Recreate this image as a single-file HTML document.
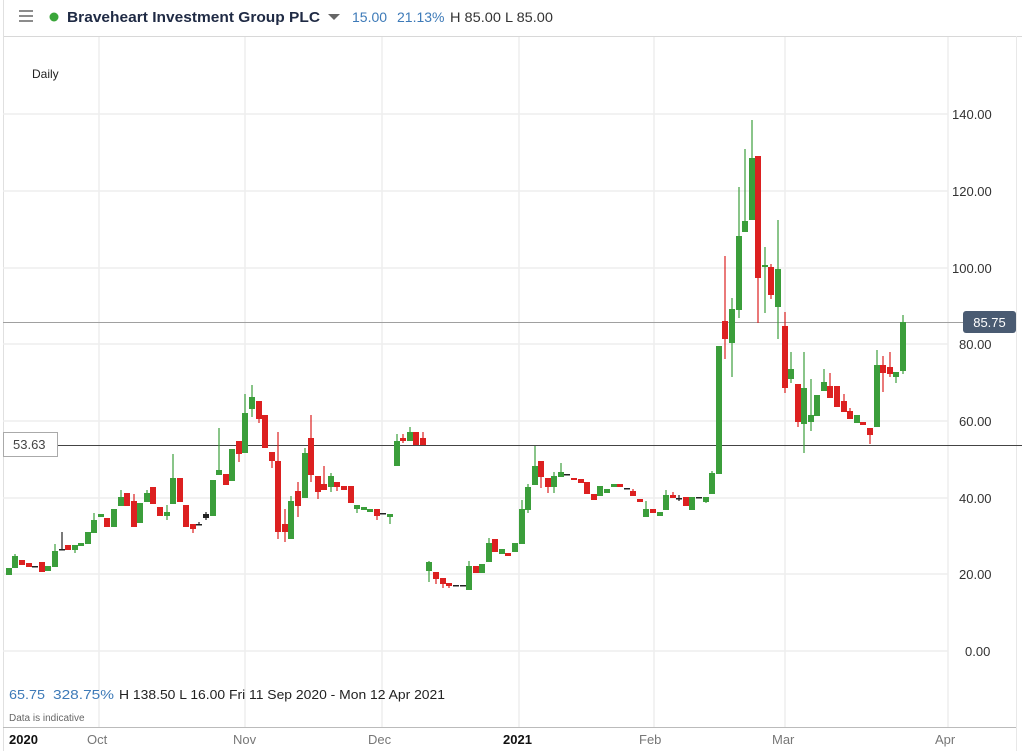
<!DOCTYPE html>
<html><head><meta charset="utf-8"><style>
body{margin:0;width:1022px;height:751px;overflow:hidden;background:#fff;font-family:"Liberation Sans",sans-serif;}
</style></head><body>
<svg width="1022" height="751" xmlns="http://www.w3.org/2000/svg" style="position:absolute;left:0;top:0" font-family="Liberation Sans, sans-serif">
<rect x="0" y="0" width="1022" height="751" fill="#fff"/>
<line x1="3" y1="36.5" x2="1022" y2="36.5" stroke="#d8d8d8"/>
<line x1="3.5" y1="0" x2="3.5" y2="751" stroke="#e0e0e0"/>
<line x1="1016.5" y1="36" x2="1016.5" y2="751" stroke="#e8e8e8"/>
<g stroke="#eeeeee" stroke-width="1.5">
<line x1="3" y1="114" x2="948" y2="114"/><line x1="3" y1="191" x2="948" y2="191"/>
<line x1="3" y1="268" x2="948" y2="268"/><line x1="3" y1="344" x2="948" y2="344"/>
<line x1="3" y1="421" x2="948" y2="421"/><line x1="3" y1="498" x2="948" y2="498"/>
<line x1="3" y1="574" x2="948" y2="574"/><line x1="3" y1="651" x2="948" y2="651"/>
<line x1="99" y1="37" x2="99" y2="727"/><line x1="245" y1="37" x2="245" y2="727"/>
<line x1="382" y1="37" x2="382" y2="727"/><line x1="519" y1="37" x2="519" y2="727"/>
<line x1="654" y1="37" x2="654" y2="727"/><line x1="785" y1="37" x2="785" y2="727"/>
<line x1="948" y1="37" x2="948" y2="727"/>
</g>
<line x1="3" y1="727.5" x2="1016" y2="727.5" stroke="#bbb"/>
<line x1="3" y1="322.5" x2="963" y2="322.5" stroke="#a0a0a0"/>
<line x1="58" y1="445.5" x2="1022" y2="445.5" stroke="#444"/>
<g id="c"></g>
<g font-size="13" fill="#333">
<text x="952" y="119">140.00</text><text x="952" y="196">120.00</text>
<text x="952" y="273">100.00</text><text x="959" y="349">80.00</text>
<text x="959" y="426">60.00</text><text x="959" y="503">40.00</text>
<text x="959" y="579">20.00</text><text x="965" y="656">0.00</text>
</g>
<rect x="963" y="311" width="53" height="22" rx="3" fill="#4a5b72"/>
<text x="989.5" y="327" font-size="13" fill="#fff" text-anchor="middle">85.75</text>
<rect x="3.5" y="432.5" width="54" height="24" fill="#fff" stroke="#aaa"/>
<text x="13" y="449" font-size="13" fill="#444">53.63</text>
<text x="32" y="78" font-size="12" fill="#222">Daily</text>
<g stroke="#666" stroke-width="1.5"><line x1="19" y1="11" x2="33" y2="11"/><line x1="19" y1="16" x2="33" y2="16"/><line x1="19" y1="21" x2="33" y2="21"/></g>
<circle cx="54" cy="17" r="4.5" fill="#3aa63a"/>
<text x="67" y="22" font-size="15" font-weight="bold" fill="#1f2a44" textLength="253" lengthAdjust="spacingAndGlyphs">Braveheart Investment Group PLC</text>
<polygon points="328,14 340,14 334,20" fill="#666"/>
<text x="352" y="22" font-size="14" fill="#3d7ab8">15.00</text>
<text x="397" y="22" font-size="14" fill="#3d7ab8">21.13%</text>
<text x="450" y="22" font-size="14" fill="#333" textLength="103" lengthAdjust="spacingAndGlyphs">H 85.00 L 85.00</text>
<text x="9" y="699" font-size="13" fill="#3d7ab8" textLength="36" lengthAdjust="spacingAndGlyphs">65.75</text>
<text x="53" y="699" font-size="13" fill="#3d7ab8" textLength="61" lengthAdjust="spacingAndGlyphs">328.75%</text>
<text x="119" y="699" font-size="13" fill="#222" textLength="326" lengthAdjust="spacingAndGlyphs">H 138.50  L 16.00  Fri 11 Sep 2020 - Mon 12 Apr 2021</text>
<text x="9" y="721" font-size="10" fill="#666">Data is indicative</text>
<g font-size="13" fill="#777">
<text x="9" y="744" font-weight="bold" fill="#111">2020</text><text x="87" y="744">Oct</text>
<text x="233" y="744">Nov</text><text x="368" y="744">Dec</text>
<text x="503" y="744" font-weight="bold" fill="#111">2021</text><text x="639" y="744">Feb</text>
<text x="772" y="744">Mar</text><text x="935" y="744">Apr</text>
</g>
</svg>
<script>
var d=[
[9,568,575,0,0,'g'],[15,556,568,554,0,'g'],[22,560,565,0,0,'r'],[29,563,567,0,0,'r'],[35,566,566,0,0,'k'],
[42,562,572,0,0,'r'],[48,566,571,0,0,'g'],[55,551,567,544,0,'g'],[62,549,549,532,0,'k'],[68,545,550,0,0,'r'],
[75,545,550,0,553,'g'],[81,543,546,0,0,'g'],[88,532,544,0,0,'g'],[94,520,533,513,0,'g'],[101,514,517,0,0,'g'],
[107,518,527,0,0,'r'],[114,509,527,0,0,'g'],[121,497,506,490,0,'g'],[127,493,506,0,0,'r'],[134,501,527,494,0,'r'],
[140,503,523,0,0,'g'],[147,493,502,490,0,'g'],[153,487,504,0,0,'r'],[160,507,516,0,0,'r'],[167,512,516,505,520,'g'],
[173,478,504,454,0,'g'],[180,478,502,0,0,'r'],[186,505,527,0,0,'r'],[193,524,529,0,533,'r'],[199,524,524,522,0,'k'],
[206,514,518,512,520,'k'],[213,480,516,0,0,'g'],[219,470,475,428,0,'g'],[226,474,485,0,0,'r'],[232,449,481,0,0,'g'],
[239,441,454,0,462,'r'],[245,413,453,394,0,'g'],[252,397,409,385,417,'g'],[259,401,419,0,423,'r'],[265,415,448,0,0,'r'],
[272,452,461,0,468,'r'],[278,461,532,432,539,'r'],[285,524,532,509,542,'r'],[291,501,539,496,0,'g'],[298,491,506,482,517,'r'],
[305,453,498,448,0,'g'],[311,438,475,415,482,'r'],[318,476,492,0,499,'r'],[324,484,490,466,0,'r'],[331,476,487,473,492,'g'],
[337,482,487,0,491,'r'],[344,486,490,0,0,'r'],[351,486,503,0,0,'r'],[357,505,509,0,513,'g'],[364,507,510,0,0,'g'],
[370,509,512,0,0,'g'],[377,509,516,0,520,'r'],[383,513,513,0,0,'k'],[390,514,517,0,524,'g'],
[397,441,466,434,0,'g'],[403,438,441,434,443,'r'],[410,432,441,427,0,'g'],[416,432,445,0,0,'r'],[423,438,445,432,0,'r'],
[429,562,571,561,582,'g'],[436,572,579,0,584,'r'],[443,578,584,0,588,'r'],[449,583,586,0,588,'r'],[456,585,585,0,0,'k'],
[463,585,585,0,0,'k'],[469,566,590,561,0,'g'],[476,566,573,0,0,'r'],[482,564,573,0,0,'g'],[489,543,562,538,0,'g'],
[495,539,552,0,0,'r'],[502,549,554,0,0,'g'],[508,553,556,0,0,'r'],[515,543,552,0,0,'g'],[522,509,544,500,0,'g'],
[528,487,510,484,513,'g'],[535,466,485,446,0,'g'],[541,461,477,0,488,'r'],[548,478,487,0,493,'r'],[554,476,487,472,493,'g'],
[561,472,477,463,0,'g'],[567,474,474,0,0,'k'],[574,478,480,0,0,'r'],[581,479,483,0,0,'r'],[587,482,494,0,0,'r'],
[594,494,500,0,0,'r'],[600,486,496,0,0,'g'],[607,489,493,0,0,'g'],[614,484,487,0,0,'g'],[620,484,487,0,0,'r'],
[627,488,488,0,0,'k'],[633,491,496,489,0,'r'],[640,499,502,0,0,'r'],[646,509,517,501,0,'g'],[653,509,513,0,0,'r'],
[660,512,516,0,0,'g'],[666,495,510,490,0,'g'],[673,495,498,492,0,'r'],[679,498,498,495,501,'k'],[686,497,506,0,0,'r'],
[692,497,510,0,0,'g'],[699,497,497,0,0,'k'],[706,497,502,0,503,'g'],[712,473,494,471,0,'g'],
[719,346,474,0,0,'g'],[725,321,339,256,359,'r'],[732,309,343,298,377,'g'],[739,236,310,187,318,'g'],[745,221,232,149,0,'g'],
[752,158,220,120,0,'g'],[758,156,278,0,323,'r'],[765,265,267,247,313,'g'],[771,267,295,264,299,'r'],[778,269,307,220,339,'g'],
[785,326,388,312,393,'r'],[791,369,379,352,383,'g'],[798,384,422,0,427,'r'],[804,388,424,352,453,'g'],[811,415,422,379,431,'g'],
[817,395,416,0,0,'g'],[824,382,391,369,0,'g'],[830,386,398,373,0,'r'],[837,386,407,0,0,'r'],[844,401,412,394,0,'r'],
[850,411,419,408,0,'r'],[857,415,423,0,0,'g'],[863,422,425,0,0,'r'],[870,428,435,0,444,'r'],[877,365,427,350,0,'g'],
[883,365,373,356,392,'r'],[890,367,374,352,377,'r'],[896,372,377,0,383,'g'],[903,322,371,315,374,'g']];
var col={g:'#3b9e3b',r:'#dc2020',k:'#222'},s='';
d.forEach(function(c){var x=c[0],t=c[1],b=c[2],wt=c[3]||t,wb=c[4]||b,f=col[c[5]];
s+='<line x1="'+x+'" x2="'+x+'" y1="'+wt+'" y2="'+wb+'" stroke="'+f+'" stroke-width="1.2"/>';
var h=Math.max(b-t,c[5]=='k'?1.5:2);s+='<rect x="'+(x-3)+'" y="'+t+'" width="6" height="'+h+'" fill="'+f+'"/>';});
document.getElementById('c').innerHTML=s;
</script>
</body></html>
